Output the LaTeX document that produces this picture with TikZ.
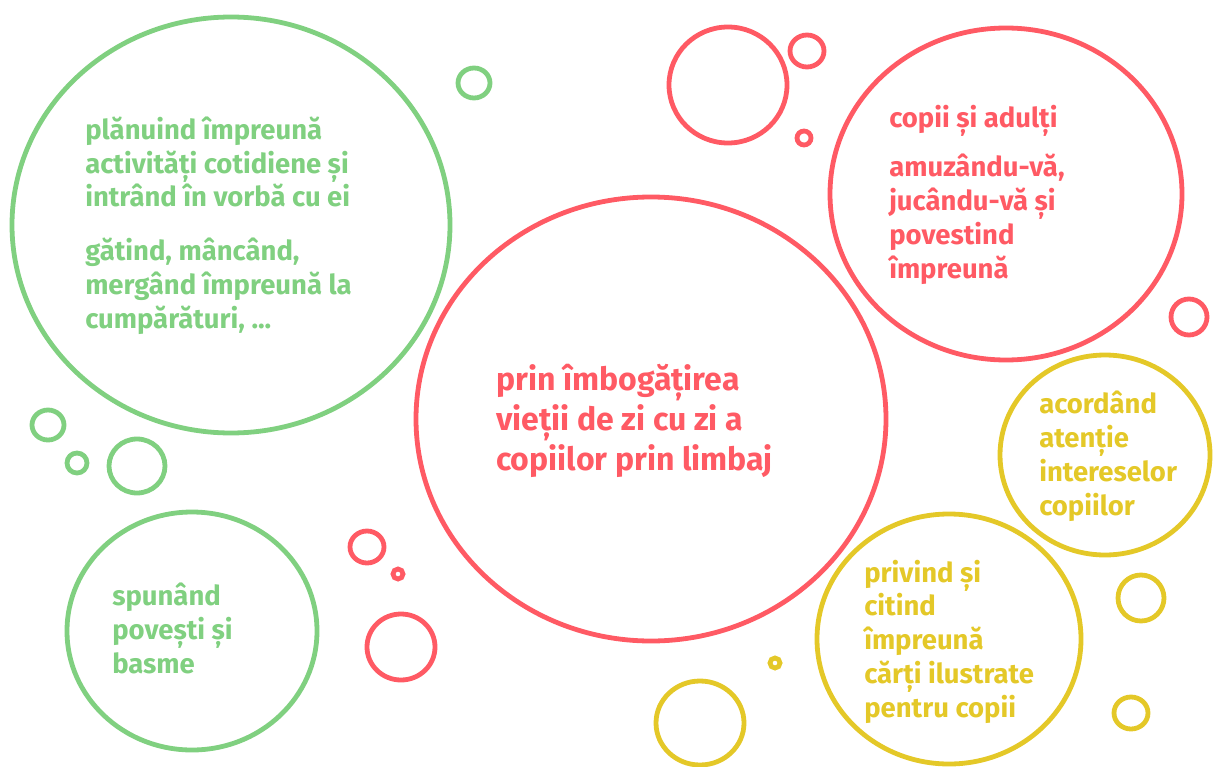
\documentclass[tikz,border=0pt]{standalone}
\usepackage{fontspec}
\setmainfont{Fira Sans}
\definecolor{bgreen}{RGB}{128,208,128}
\definecolor{bred}{RGB}{255,90,100}
\definecolor{byellow}{RGB}{228,200,40}
\begin{document}
\begin{tikzpicture}[x=0.75pt,y=-0.75pt]
	\tikzset{bubble/.style={line width=3.6pt},
		label/.style={anchor=base west, align=left, inner sep=0pt, font=\bfseries\fontsize{20.6}{25.3}\selectfont},
		bigtext/.style={label, font=\bfseries\fontsize{24}{30}\selectfont}
	}
	\useasboundingbox (0,0) rectangle (1213,767);
	% green bubbles
	\draw[bubble, bgreen] (231,225) ellipse [x radius=219, y radius=208];
	\draw[bubble, bgreen] (474,83) ellipse [x radius=16, y radius=15];
	\draw[bubble, bgreen] (48,425) ellipse [x radius=16, y radius=15];
	\draw[bubble, bgreen] (77,463) ellipse [x radius=10, y radius=10];
	\draw[bubble, bgreen] (137,466) ellipse [x radius=28, y radius=27];
	\draw[bubble, bgreen] (192,631) ellipse [x radius=125, y radius=119];
	% red bubbles
	\draw[bubble, bred] (651,419) ellipse [x radius=235, y radius=222];
	\draw[bubble, bred] (728,85) ellipse [x radius=59, y radius=58];
	\draw[bubble, bred] (807,51) ellipse [x radius=17, y radius=16];
	\draw[bubble, bred] (804,138) ellipse [x radius=7, y radius=7];
	\draw[bubble, bred] (1006,194) ellipse [x radius=176, y radius=166];
	\draw[bubble, bred] (1189,317) ellipse [x radius=18, y radius=18];
	\draw[bubble, bred] (367,547) ellipse [x radius=17, y radius=16];
	\draw[bubble, bred] (398,574) ellipse [x radius=5, y radius=5];
	\draw[bubble, bred] (401,647) ellipse [x radius=34, y radius=33];
	% yellow bubbles
	\draw[bubble, byellow] (1105,455) ellipse [x radius=105, y radius=100];
	\draw[bubble, byellow] (949,639) ellipse [x radius=132, y radius=125];
	\draw[bubble, byellow] (1141,598) ellipse [x radius=23, y radius=23];
	\draw[bubble, byellow] (1131,713) ellipse [x radius=17, y radius=16];
	\draw[bubble, byellow] (775,663) ellipse [x radius=5, y radius=5];
	\draw[bubble, byellow] (700,723) ellipse [x radius=44, y radius=42];
	% texts (placed by the baseline of their last line)
	\node[label, text=bgreen] (planuind) at (85,328) {plănuind împreună\\activități cotidiene și\\intrând în vorbă cu ei\\[15pt]gătind, mâncând,\\mergând împreună la\\cumpărături, ...};
	\node[label, text=bgreen] (spunand) at (112,673) {spunând\\povești și\\basme};
	\node[bigtext, text=bred] (prin) at (496,470) {prin îmbogățirea\\vieții de zi cu zi a\\copiilor prin limbaj};
	\node[label, text=bred] (copii) at (889,278) {copii și adulți\\[12pt]amuzându-vă,\\jucându-vă și\\povestind\\împreună};
	\node[label, text=byellow] (acordand) at (1039,515) {acordând\\atenție\\intereselor\\copiilor};
	\node[label, text=byellow] (privind) at (864,717) {privind și\\citind\\împreună\\cărți ilustrate\\pentru copii};
\end{tikzpicture}
\end{document}
